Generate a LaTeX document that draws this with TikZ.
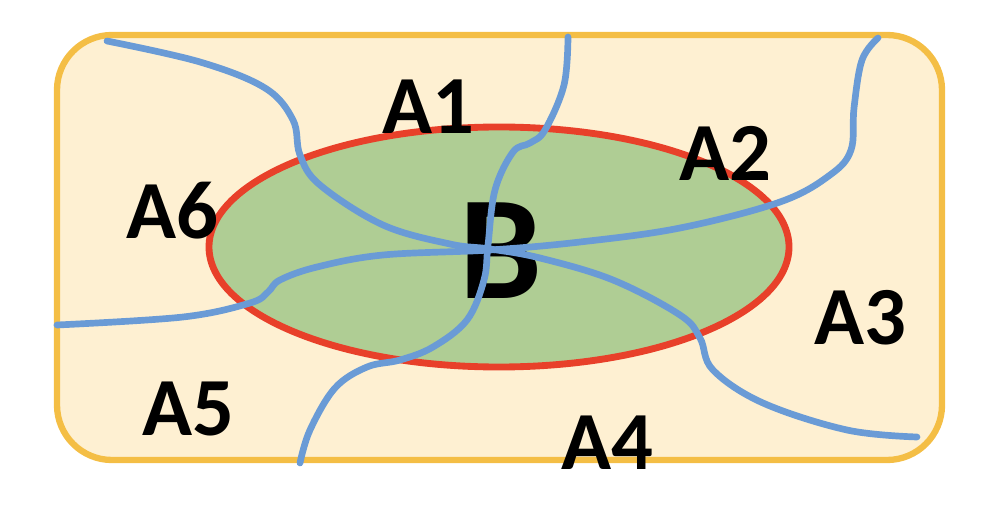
\documentclass[tikz,border=0pt]{standalone}
\usepackage{fontspec}
\setmainfont{Carlito}
\usetikzlibrary{shapes.geometric}

\definecolor{sandfill}{HTML}{FEF0D2}
\definecolor{sandline}{HTML}{F4BE45}
\definecolor{setfill}{HTML}{AFCD94}
\definecolor{setline}{HTML}{E8402A}
\definecolor{cutline}{HTML}{6A9BD6}

\begin{document}
\begin{tikzpicture}[x=0.2mm, y=-0.2mm,
    region/.style={font=\fontsize{47}{50}\selectfont\bfseries, inner sep=0pt},
    cut/.style={draw=cutline, line width=3.8pt, line cap=round}]
  \useasboundingbox (0,0) rectangle (1000,506);
  % universe and the set B
  \draw[fill=sandfill, draw=sandline, line width=3.6pt, rounded corners=1.1cm]
    (57,35) rectangle (942,460);
  \node[ellipse, fill=setfill, draw=setline, line width=3.9pt,
    minimum width=11.6cm, minimum height=4.8cm] (setB) at (499,247) {};
  \node[font=\fontsize{84}{86}\selectfont\bfseries, inner sep=0pt] (labB) at (501,251) {B};
  % the three cuts through B
  \draw[cut] plot[smooth, tension=0.6] coordinates {(107,41) (200,62) (265,88) (293,120)
    (300,155) (320,185) (383,225) (450,244) (490,249) (540,258) (613,280) (680,315)
    (700,338) (713,370) (763,403) (847,430) (917,437)};
  \draw[cut] plot[smooth, tension=0.6] coordinates {(568,37) (564,85) (545,130) (530,143)
    (513,152) (495,190) (488,245) (484,280) (467,320) (433,347) (400,360) (367,367)
    (335,388) (310,430) (300,463)};
  \draw[cut] plot[smooth, tension=0.6] coordinates {(878,38) (862,60) (854,108) (851,150)
    (830,175) (780,202) (680,228) (580,242) (490,250) (383,255) (317,267) (280,280)
    (268,292) (250,303) (183,317) (57,325)};
  % region labels
  \node[region] (a1) at (428,107) {A1};
  \node[region] (a2) at (725,153) {A2};
  \node[region] (a3) at (860,318) {A3};
  \node[region] (a4) at (607,443) {A4};
  \node[region] (a5) at (188,409) {A5};
  \node[region] (a6) at (172,211) {A6};
\end{tikzpicture}
\end{document}
